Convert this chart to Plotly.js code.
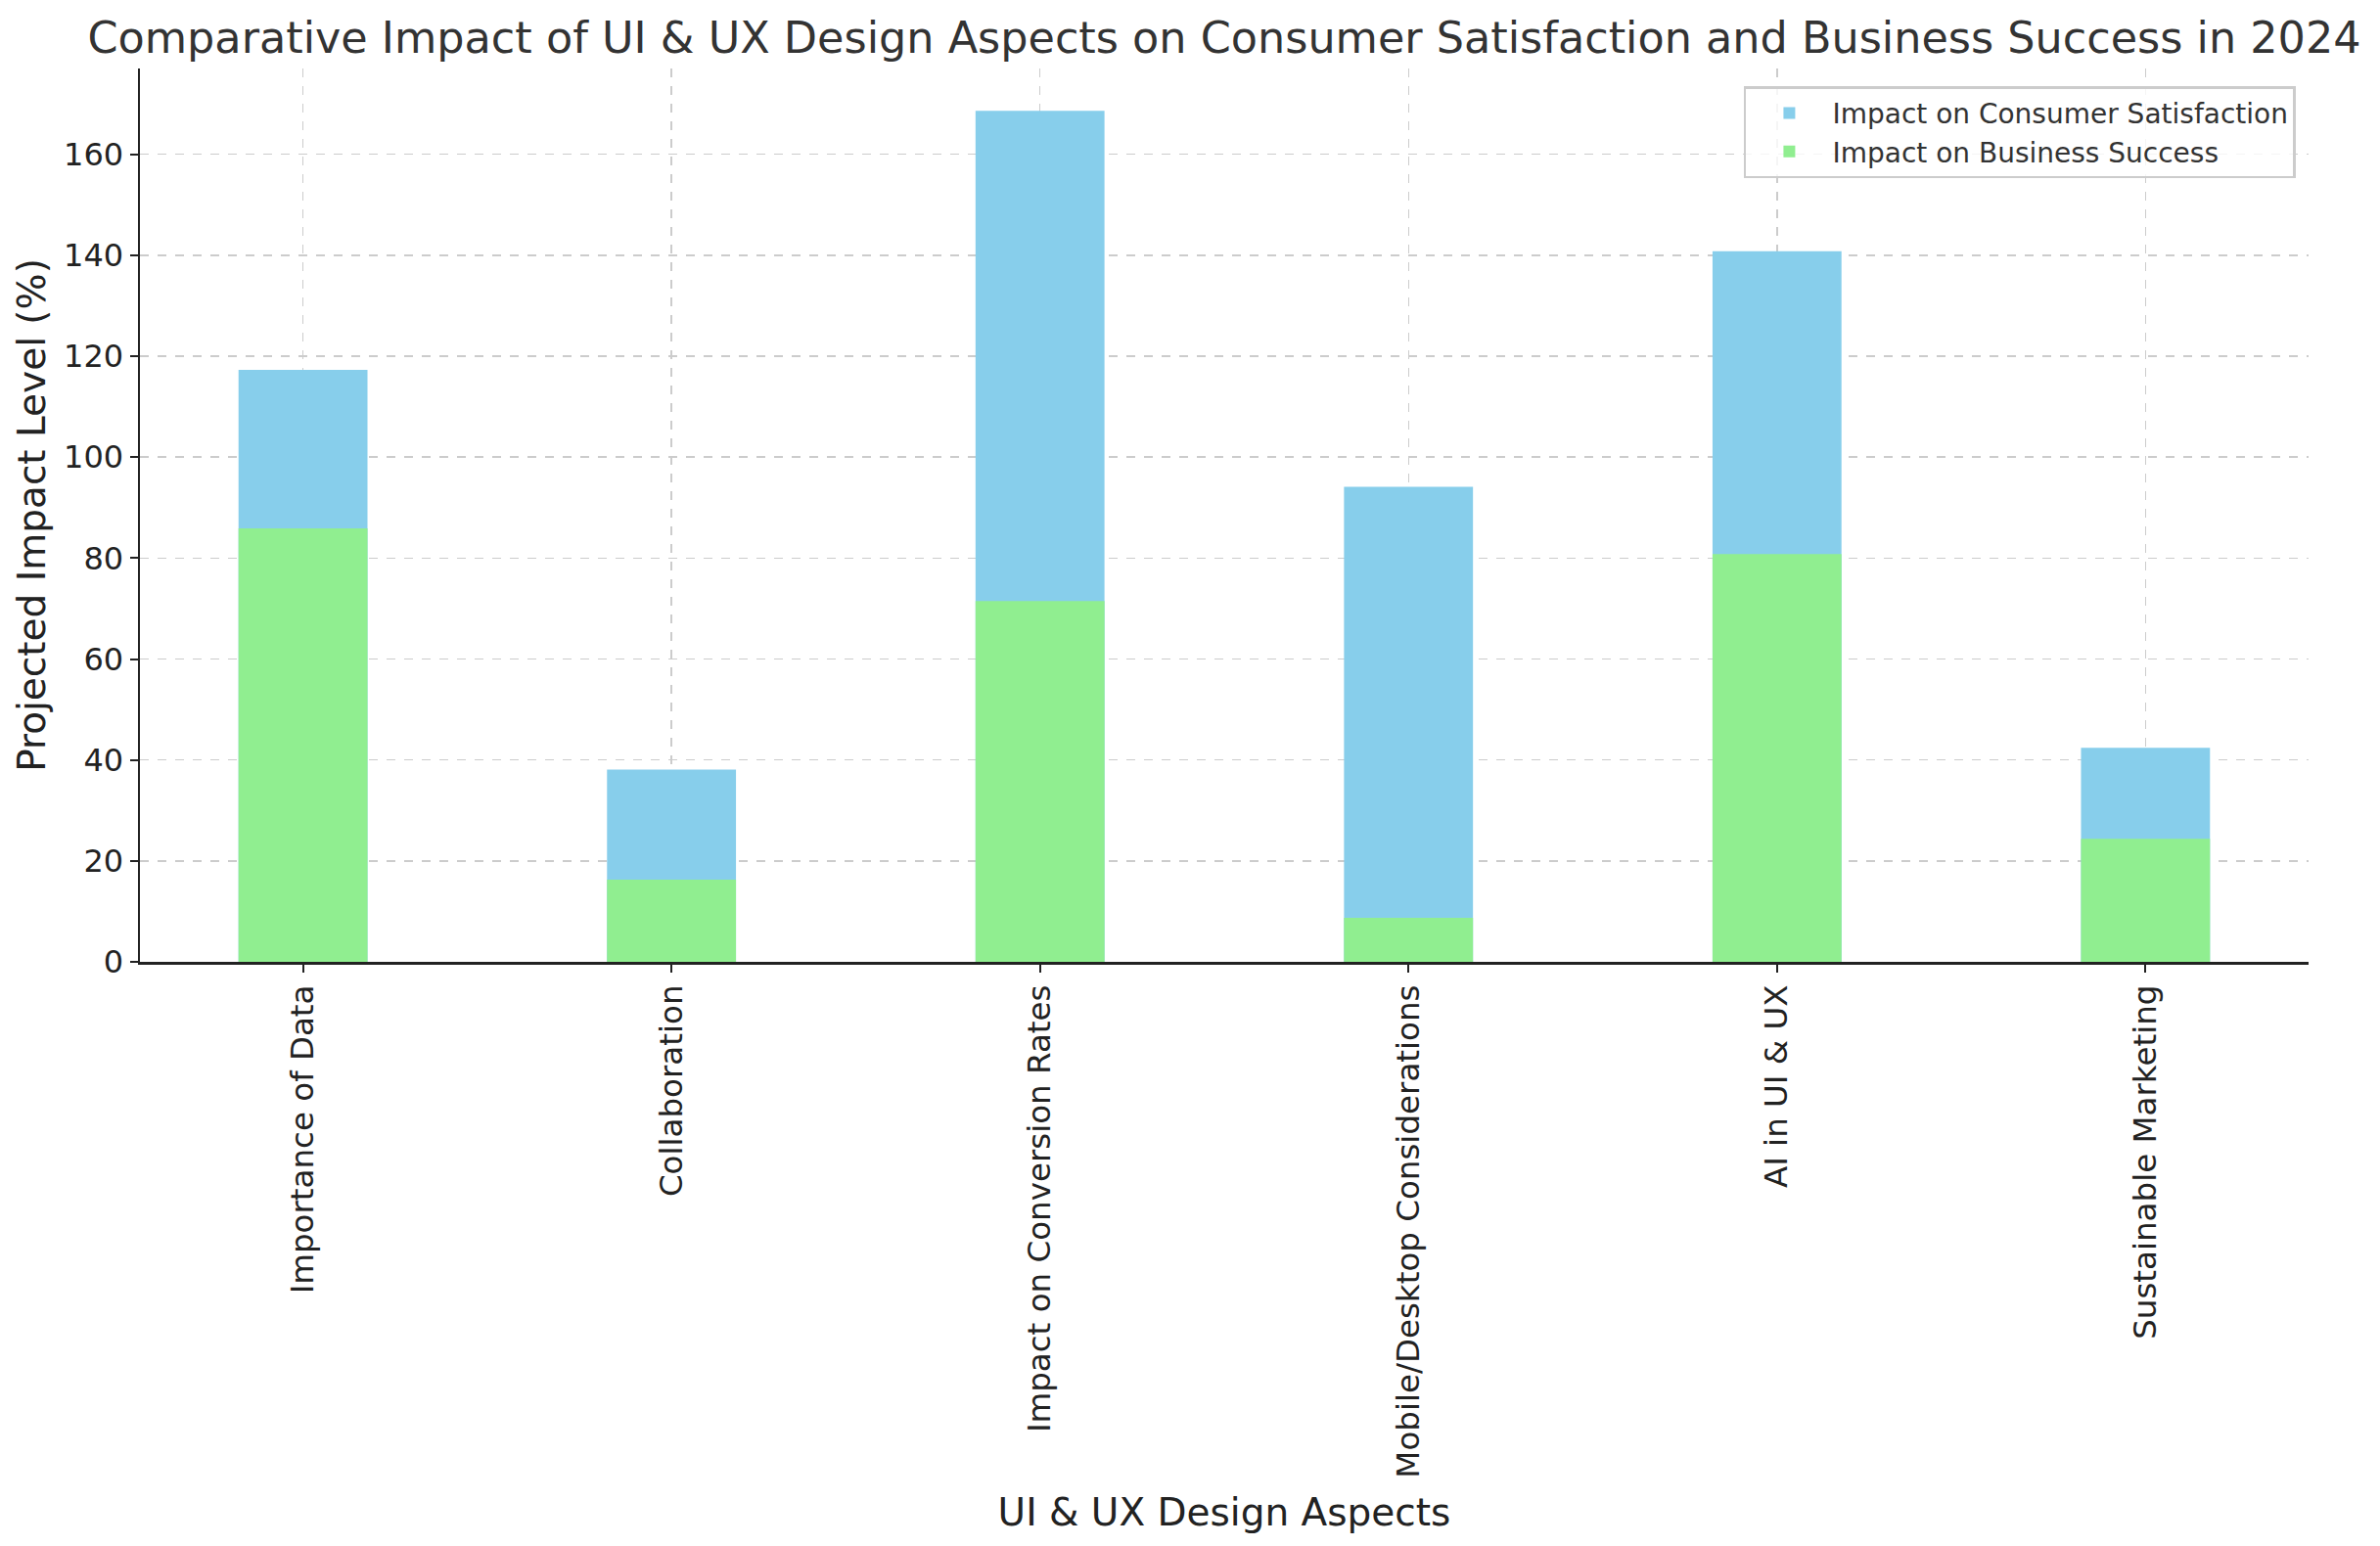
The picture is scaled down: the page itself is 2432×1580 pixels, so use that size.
<!DOCTYPE html>
<html>
<head>
<meta charset="utf-8">
<script src="https://cdn.plot.ly/plotly-3.0.1.min.js"></script>
<style>
  html, body { margin: 0; padding: 0; background: #fff; }
  #chart { width: 2432px; height: 1580px; }
</style>
</head>
<body>
<div id="chart"></div>
<script>
var aspects = [
  'Importance of Data',
  'Collaboration',
  'Impact on Conversion Rates',
  'Mobile/Desktop Considerations',
  'AI in UI & UX',
  'Sustainable Marketing'
];
var consumerSatisfaction = [117.3, 38.1, 168.6, 94.1, 140.8, 42.4];
var businessSuccess = [85.9, 16.3, 71.5, 8.7, 80.8, 24.4];

var font = 'DejaVu Sans, sans-serif';

var consumerTrace = {
  name: 'Impact on Consumer Satisfaction',
  type: 'bar',
  x: aspects,
  y: consumerSatisfaction,
  width: 0.35,
  marker: { color: '#87CEEB', line: { width: 0 } },
  hoverinfo: 'x+y',
};

var businessTrace = {
  name: 'Impact on Business Success',
  type: 'bar',
  x: aspects,
  y: businessSuccess,
  width: 0.35,
  marker: { color: '#90EE90', line: { width: 0 } },
  hoverinfo: 'x+y',
};

var layout = {
  width: 2432,
  height: 1580,
  barmode: 'overlay',
  paper_bgcolor: '#ffffff',
  plot_bgcolor: '#ffffff',
  font: { family: font, color: '#222222', size: 32 },
  margin: { l: 143, r: 73, t: 70, b: 597, autoexpand: false },
  title: {
    text: 'Comparative Impact of UI & UX Design Aspects on Consumer Satisfaction and Business Success in 2024',
    font: { family: font, size: 44.5, color: '#333333' },
    x: 0.5,
    xref: 'paper',
    y: 1 - 38 / 1580,
    yref: 'container',
    yanchor: 'middle',
  },
  xaxis: {
    type: 'category',
    range: [-0.4425, 5.4425],
    tickangle: -90,
    ticks: 'outside',
    ticklen: 8,
    tickwidth: 2,
    tickcolor: '#222222',
    tickfont: { family: font, size: 32.5, color: '#222222' },
    showline: true,
    linecolor: '#222222',
    linewidth: 2.5,
    showgrid: true,
    gridcolor: '#cccccc',
    gridwidth: 1.5,
    griddash: 'dash',
    zeroline: false,
    automargin: false,
    title: {
      text: 'UI & UX Design Aspects',
      font: { family: font, size: 39, color: '#222222' },
      standoff: 22,
    },
  },
  yaxis: {
    range: [0, 177],
    dtick: 20,
    ticks: 'outside',
    ticklen: 8,
    tickwidth: 2,
    tickcolor: '#222222',
    tickfont: { family: font, size: 32, color: '#222222' },
    showline: true,
    linecolor: '#222222',
    linewidth: 2.5,
    showgrid: true,
    gridcolor: '#cccccc',
    gridwidth: 1.5,
    griddash: 'dash',
    zeroline: false,
    automargin: false,
    title: {
      text: 'Projected Impact Level (%)',
      font: { family: font, size: 39, color: '#222222' },
      standoff: 7,
    },
  },
  legend: {
    x: 0.9941,
    xanchor: 'right',
    y: 0.98,
    yanchor: 'top',
    bgcolor: 'rgba(255,255,255,0.8)',
    bordercolor: '#cccccc',
    borderwidth: 2.5,
    itemwidth: 78,
    font: { family: font, size: 28, color: '#333333' },
    traceorder: 'normal',
  },
  showlegend: true,
};

Plotly.newPlot('chart', [consumerTrace, businessTrace], layout, { displayModeBar: false, staticPlot: true });
</script>
</body>
</html>
